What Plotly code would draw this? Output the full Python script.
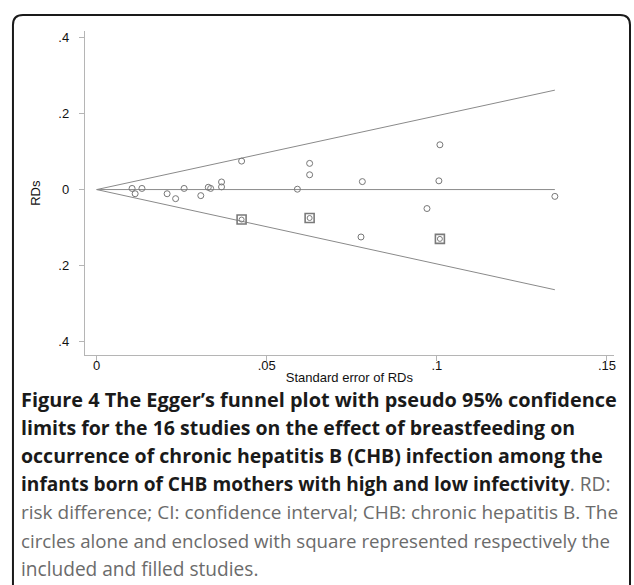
import plotly.graph_objects as go

# ---- data ----
se_included = [0.0104, 0.0113, 0.0133, 0.0207, 0.0232, 0.0257, 0.0306, 0.0328, 0.0335,
               0.0367, 0.0367, 0.0426, 0.0590, 0.0626, 0.0626, 0.0781, 0.0777, 0.1009,
               0.1006, 0.0971, 0.1347]
rd_included = [0.003, -0.011, 0.003, -0.011, -0.024, 0.003, -0.016, 0.006, 0.003,
               0.020, 0.007, 0.075, 0.001, 0.069, 0.039, 0.021, -0.125, 0.118,
               0.023, -0.050, -0.018]

se_filled = [0.0426, 0.0626, 0.1009]
rd_filled = [-0.079, -0.075, -0.130]

funnel_se = [0.0, 0.1347]
funnel_upper = [0.0, 0.262]
funnel_lower = [0.0, -0.264]
center_rd = [0.0, 0.0]

x_tickvals = [0, 0.05, 0.1, 0.15]
x_ticktext = ["0", ".05", ".1", ".15"]
y_tickvals = [-0.4, -0.2, 0, 0.2, 0.4]
y_ticktext = [".4", ".2", "0", ".2", ".4"]

GRAY_TXT = "#6b6b6b"
caption_lines = [
    "<b>Figure 4</b> <b>The Egger\u2019s funnel plot with pseudo 95% confidence</b>",
    "<b>limits for the 16 studies on the effect of breastfeeding on</b>",
    "<b>occurrence of chronic hepatitis B (CHB) infection among the</b>",
    "<b>infants born of CHB mothers with high and low infectivity</b>"
    f"<span style='color:{GRAY_TXT}'>. RD:</span>",
    f"<span style='color:{GRAY_TXT}'>risk difference; CI: confidence interval; CHB: chronic hepatitis B. The</span>",
    f"<span style='color:{GRAY_TXT}'>circles alone and enclosed with square represented respectively the</span>",
    f"<span style='color:{GRAY_TXT}'>included and filled studies.</span>",
]
caption_sizes = [19.9, 19.5, 19.5, 19.1, 19.0, 18.7, 19.1]

W, H = 634, 585
LINE = "#8a8a8a"

fig = go.Figure()

fig.add_trace(go.Scatter(x=funnel_se, y=funnel_upper, mode="lines",
                         line=dict(color=LINE, width=1), hoverinfo="skip", showlegend=False))
fig.add_trace(go.Scatter(x=funnel_se, y=funnel_lower, mode="lines",
                         line=dict(color=LINE, width=1), hoverinfo="skip", showlegend=False))
fig.add_trace(go.Scatter(x=funnel_se, y=center_rd, mode="lines",
                         line=dict(color=LINE, width=1), hoverinfo="skip", showlegend=False))

fig.add_trace(go.Scatter(x=se_filled, y=rd_filled, mode="markers",
                         marker=dict(symbol="square-open", size=9, color="#7a7a7a",
                                     line=dict(width=1.6, color="#7a7a7a")),
                         showlegend=False))
fig.add_trace(go.Scatter(x=se_filled, y=rd_filled, mode="markers",
                         marker=dict(symbol="circle-open", size=5, color="#7a7a7a",
                                     line=dict(width=1, color="#7a7a7a")),
                         showlegend=False))
fig.add_trace(go.Scatter(x=se_included, y=rd_included, mode="markers",
                         marker=dict(symbol="circle-open", size=6, color="#777777",
                                     line=dict(width=1, color="#777777")),
                         showlegend=False))

def px_x(p):
    return p / W

def px_y(p):
    return 1 - p / H

axis_font = dict(family="Liberation Sans, Arial, sans-serif", size=13, color="#111111")

fig.update_layout(
    width=W, height=H,
    margin=dict(l=0, r=0, t=0, b=0),
    paper_bgcolor="white", plot_bgcolor="white",
    showlegend=False,
    xaxis=dict(
        domain=[px_x(85), px_x(616)],
        range=[-0.00352, 0.1521],
        tickvals=x_tickvals, ticktext=x_ticktext,
        showgrid=False, zeroline=False,
        showline=True, linecolor="#b5b5b5", linewidth=1,
        ticks="outside", ticklen=5, tickcolor="#b5b5b5", tickwidth=1,
        tickfont=axis_font, ticklabelstandoff=-7,
        title=dict(text="Standard error of RDs", font=axis_font, standoff=0),
        anchor="y",
    ),
    yaxis=dict(
        domain=[px_y(355), px_y(30)],
        range=[-0.437, 0.418],
        tickvals=y_tickvals, ticktext=y_ticktext,
        showgrid=False, zeroline=False,
        showline=True, linecolor="#b5b5b5", linewidth=1,
        ticks="outside", ticklen=5, tickcolor="#b5b5b5", tickwidth=1,
        tickfont=axis_font, ticklabelstandoff=7,
        title=dict(text="RDs", font=axis_font, standoff=14),
        anchor="x",
    ),
)

# rounded border box (runs off the right/bottom edges)
x0, y0, x1, y1, r = 13, 14, 632, 600, 10
path = (f"M {px_x(x0)},{px_y(y1)} L {px_x(x0)},{px_y(y0 + r)} "
        f"Q {px_x(x0)},{px_y(y0)} {px_x(x0 + r)},{px_y(y0)} "
        f"L {px_x(x1 - r)},{px_y(y0)} "
        f"Q {px_x(x1)},{px_y(y0)} {px_x(x1)},{px_y(y0 + r)} "
        f"L {px_x(x1)},{px_y(y1)}")
fig.add_shape(type="path", path=path, xref="paper", yref="paper",
              line=dict(color="#1a1a1a", width=2))

y_start = 399
spacing = 28.3
for i, txt in enumerate(caption_lines):
    fig.add_annotation(text=txt, xref="paper", yref="paper",
                       x=px_x(19), y=px_y(y_start + i * spacing),
                       xanchor="left", yanchor="middle", showarrow=False,
                       font=dict(family="Open Sans, Noto Sans, sans-serif",
                                 size=caption_sizes[i], color="#1a1a1a"),
                       align="left")

fig.write_html("out.html", config={"displayModeBar": False},
               post_script="document.body.style.margin='0';document.body.style.padding='0';")
